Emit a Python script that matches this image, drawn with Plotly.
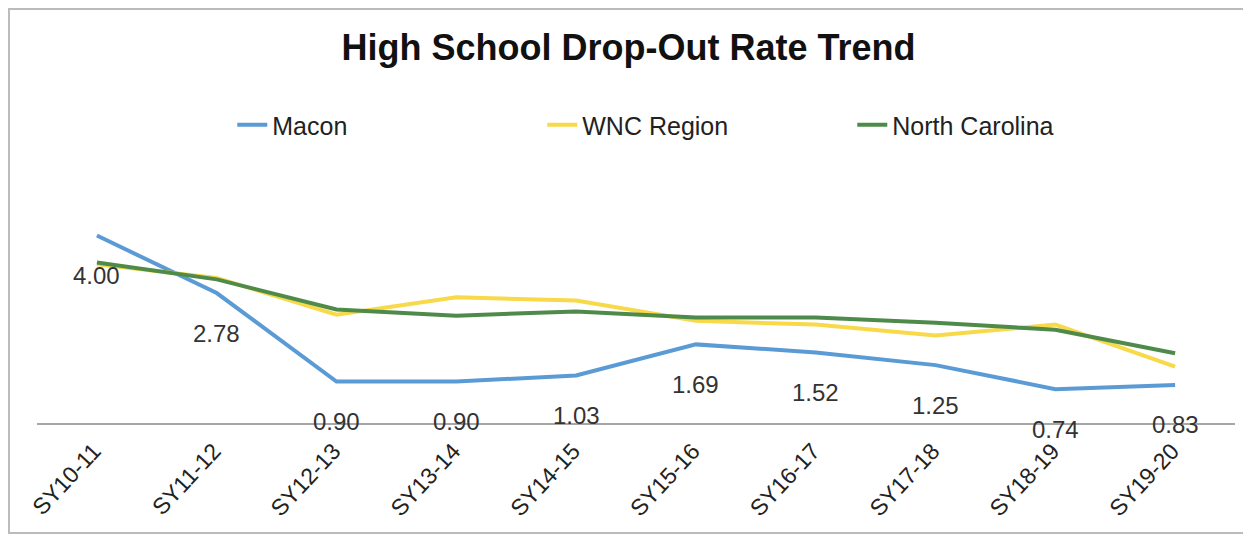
import plotly.graph_objects as go

categories = ["SY10-11", "SY11-12", "SY12-13", "SY13-14", "SY14-15",
              "SY15-16", "SY16-17", "SY17-18", "SY18-19", "SY19-20"]
macon = [4.00, 2.78, 0.90, 0.90, 1.03, 1.69, 1.52, 1.25, 0.74, 0.83]
wnc = [3.39, 3.10, 2.32, 2.69, 2.62, 2.19, 2.11, 1.88, 2.11, 1.22]
nc = [3.43, 3.07, 2.43, 2.30, 2.39, 2.26, 2.26, 2.15, 2.00, 1.50]
macon_labels = [f"{v:.2f}" for v in macon]

FONT = "Liberation Sans, Arial, sans-serif"

fig = go.Figure()
fig.add_trace(go.Scatter(x=categories, y=macon, mode="lines", name="Macon",
                         line=dict(color="#5B9BD5", width=4)))
fig.add_trace(go.Scatter(x=categories, y=wnc, mode="lines", name="WNC Region",
                         line=dict(color="#F8D94A", width=4)))
fig.add_trace(go.Scatter(x=categories, y=nc, mode="lines", name="North Carolina",
                         line=dict(color="#4E8B4A", width=4)))

for c, v, t in zip(categories, macon, macon_labels):
    fig.add_annotation(x=c, y=v, text=t, showarrow=False, yshift=-40,
                       font=dict(family=FONT, size=24, color="#333333"))

fig.update_layout(
    width=1251, height=537,
    margin=dict(l=29, r=24, t=204, b=121, autoexpand=False),
    paper_bgcolor="white", plot_bgcolor="white",
    title=dict(text="<b>High School Drop-Out Rate Trend</b>", x=0.496, xanchor="center",
               y=0.926, yanchor="middle",
               font=dict(family=FONT, size=36, color="#111111")),
    legend=dict(orientation="h", x=0.163, xanchor="left", y=1.41, yanchor="middle",
                font=dict(family=FONT, size=25, color="#222222"),
                entrywidth=265, bgcolor="rgba(0,0,0,0)"),
    showlegend=True,
    xaxis=dict(showgrid=False, showline=False, zeroline=False, ticks="",
               range=[-0.5, 9.5], automargin=False, tickangle=-47,
               ticklabelstandoff=8, ticklabelshift=-3,
               tickfont=dict(family=FONT, size=23, color="#222222")),
    yaxis=dict(range=[0, 4.5], showgrid=False, zeroline=True, zerolinecolor="#A6A6A6",
               zerolinewidth=2, showticklabels=False, showline=False, automargin=False),
)
fig.add_shape(type="rect", xref="paper", yref="paper", x0=-0.0234, x1=1.03, y0=-0.514, y1=1.958,
              line=dict(color="#BBBBBB", width=2))

fig.write_html("out.html")
